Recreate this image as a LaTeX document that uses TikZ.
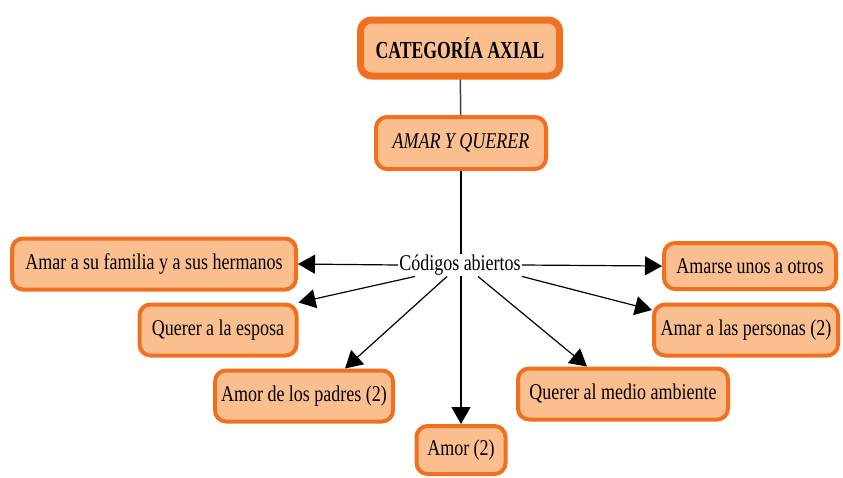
\documentclass[tikz,border=0pt]{standalone}
\usepackage{fontspec}
\setmainfont[FakeStretch=0.8]{Liberation Serif}
\newfontfamily\negrita[FakeStretch=0.72]{Liberation Serif}
\usetikzlibrary{arrows.meta}
\definecolor{borde}{RGB}{240,112,32}
\definecolor{relleno}{RGB}{251,191,143}
\tikzset{
  caja/.style={draw=borde,fill=relleno,line width=4pt,rounded corners=11pt,
    minimum height=51pt,inner sep=2pt,font=\fontsize{22.5}{26}\selectfont},
  flecha/.style={line width=1.2pt,-{Triangle[length=17pt,width=19pt]}}
}
\begin{document}
\begin{tikzpicture}[x=1pt,y=-1pt]
  \useasboundingbox (0,0) rectangle (843,477);

  % categoria axial
  \node[caja,line width=7pt,minimum width=199pt,minimum height=56pt,
    font=\negrita\fontsize{24.5}{28}\selectfont\bfseries] (axial) at (460,48) {CATEGORÍA AXIAL};
  \node[caja,minimum width=170pt,minimum height=52pt,font=\fontsize{22.5}{26}\selectfont\itshape]
    (amar) at (461,143) {AMAR Y QUERER};
  \draw[line width=1.5pt,black!75] (axial) -- (amar);

  % codigos
  \node[caja,minimum width=284pt] (familia) at (154,264) {Amar a su familia y a sus hermanos};
  \node[caja,minimum width=157pt] (esposa) at (218,330) {Querer a la esposa};
  \node[caja,minimum width=178pt] (padres) at (304,396) {Amor de los padres (2)};
  \node[caja,minimum width=89pt,minimum height=48pt] (amor) at (461,450) {Amor (2)};
  \node[caja,minimum width=210pt] (medio) at (623,394) {Querer al medio ambiente};
  \node[caja,minimum width=184pt] (personas) at (746,330) {Amar a las personas (2)};
  \node[caja,minimum width=172pt,minimum height=46pt] (amarse) at (750,266) {Amarse unos a otros};

  \draw[flecha] (amar) -- (amor);
  \node[fill=white,inner sep=1pt,font=\fontsize{22.5}{26}\selectfont] (cod) at (460,265) {Códigos abiertos};

  \draw[flecha] (cod.west) -- (familia.east);
  \draw[flecha] ([xshift=-45pt]cod.south) -- (esposa.north east);
  \draw[flecha] ([xshift=-13pt]cod.south) -- ([xshift=41pt]padres.north);
  \draw[flecha] ([xshift=18pt]cod.south) -- ([xshift=-36pt]medio.north);
  \draw[flecha] (cod.south east) -- ([yshift=20pt]personas.west);
  \draw[flecha] (cod.east) -- (amarse.west);
\end{tikzpicture}
\end{document}
